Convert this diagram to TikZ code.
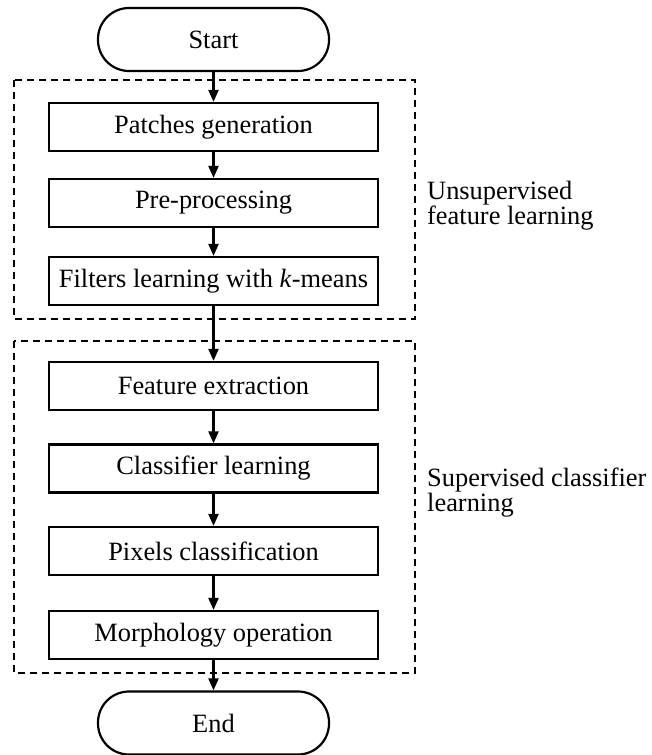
\documentclass[tikz,border=0pt]{standalone}
\usepackage{fontspec}
\setmainfont{Liberation Serif}
\usetikzlibrary{arrows.meta}
\begin{document}
\begin{tikzpicture}[x=1pt,y=-1pt,
  every node/.style={font=\fontsize{26.4}{25}\selectfont},
  stepbox/.style={draw, line width=2.2pt, minimum width=329pt, minimum height=48pt, inner sep=0pt},
  termbox/.style={draw, line width=2.2pt, rounded corners=31pt, minimum width=231pt, minimum height=63pt, inner sep=0pt},
  grp/.style={draw, line width=2.2pt, dash pattern=on 7pt off 5pt},
  arr/.style={line width=2.2pt, -{Triangle[length=12pt,width=10pt]}},
  lab/.style={anchor=west, align=left, inner sep=0pt}]
\useasboundingbox (0,0) rectangle (651,755);
\draw[grp] (14,80) rectangle (415,319);
\draw[grp] (14,341) rectangle (415,673);
\node[termbox] (start) at (213.5,39.5) {Start};
\node[stepbox] (patch) at (213.5,127) {Patches generation};
\node[stepbox] (pre) at (213.5,203) {Pre-processing};
\node[stepbox] (filt) at (213.5,281) {Filters learning with \textit{k}-means};
\node[stepbox] (feat) at (213.5,386) {Feature extraction};
\node[stepbox] (clas) at (213.5,468.5) {Classifier learning};
\node[stepbox] (pix) at (213.5,551) {Pixels classification};
\node[stepbox] (morph) at (213.5,635) {Morphology operation};
\node[termbox] (end) at (213.5,723) {End};
\node[lab] (ulab) at (427,206) {Unsupervised\\feature learning};
\node[lab] (slab) at (427,493) {Supervised classifier\\learning};
\draw[arr] (start) -- (patch);
\draw[arr] (patch) -- (pre);
\draw[arr] (pre) -- (filt);
\draw[arr] (filt) -- (feat);
\draw[arr] (feat) -- (clas);
\draw[arr] (clas) -- (pix);
\draw[arr] (pix) -- (morph);
\draw[arr] (morph) -- (end);
\end{tikzpicture}
\end{document}
